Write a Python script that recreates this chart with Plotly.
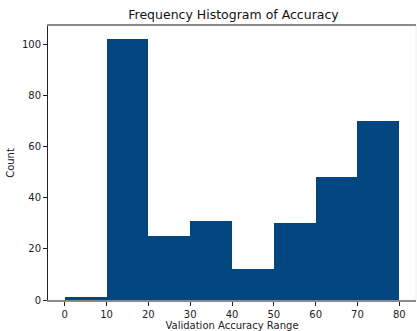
import plotly.graph_objects as go

bin_starts = [0, 10, 20, 30, 40, 50, 60, 70]
bin_width = 10
counts = [1, 102, 25, 31, 12, 30, 48, 70]
x_ticks = [0, 10, 20, 30, 40, 50, 60, 70, 80]
y_ticks = [0, 20, 40, 60, 80, 100]

centers = [s + bin_width / 2 for s in bin_starts]

fig = go.Figure()
fig.add_trace(go.Bar(
    x=centers, y=counts, width=bin_width,
    marker=dict(color="#01467f", line=dict(width=0)),
))

font = "DejaVu Sans"
fig.update_layout(
    width=417, height=331,
    margin=dict(l=48, r=1, t=26, b=31),
    paper_bgcolor="white", plot_bgcolor="white",
    showlegend=False, bargap=0,
    title=dict(text="Frequency Histogram of Accuracy", x=0.56, xanchor="center",
               y=1 - 15 / 331, yanchor="middle",
               font=dict(family=font, size=12.5, color="#111111")),
    xaxis=dict(range=[-4, 84], tickvals=x_ticks, ticks="outside", ticklen=4,
               tickcolor="#222222", showgrid=False, zeroline=False,
               showline=True, linecolor="#8a8a8a", linewidth=1.5, mirror=True,
               tickfont=dict(family=font, size=10, color="#222222"),
               title=dict(text="Validation Accuracy Range", standoff=4,
                          font=dict(family=font, size=10, color="#222222"))),
    yaxis=dict(range=[0, 107.1], tickvals=y_ticks, ticks="outside", ticklen=4,
               tickcolor="#222222", showgrid=False, zeroline=False,
               showline=True, linecolor="#222222", linewidth=1,
               tickfont=dict(family=font, size=10, color="#222222"),
               title=dict(text="Count", standoff=5,
                          font=dict(family=font, size=10, color="#222222"))),
    shapes=[dict(type="line", xref="paper", yref="paper", x0=1, x1=1, y0=0, y1=1,
                 line=dict(color="#eeeeee", width=1))],
)

fig.write_html("out.html")
